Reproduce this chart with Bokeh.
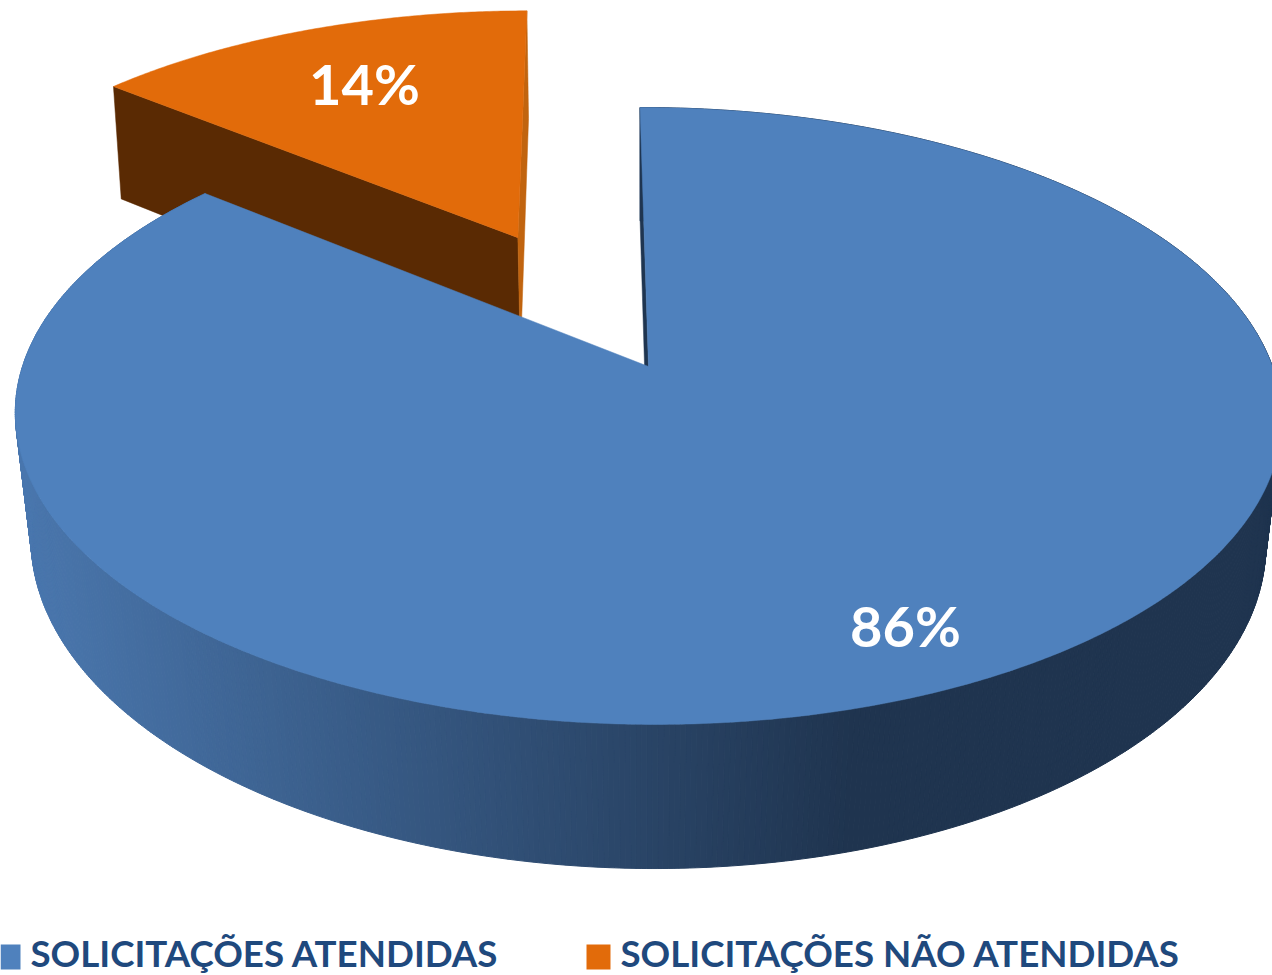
import math
from bokeh.plotting import figure
from bokeh.models import Range1d
from bokeh.core.properties import value
from bokeh.embed import file_html
from bokeh.resources import INLINE

categories = ["SOLICITAÇÕES ATENDIDAS", "SOLICITAÇÕES NÃO ATENDIDAS"]
shares = [86, 14]
share_labels = ["86%", "14%"]
top_colors = ["#4F81BD", "#E26B0A"]
cut_colors = ["#1F3550", "#5A2A03"]
inner_color = "#C1640F"

W, H = 1272, 975
CX, CY = 648.0, 366.0
A, B, K = 300.5, 625.0, 0.1604   # perspective of the pie's plane
SHEAR = 0.005
VX, VY = 645.0, 7800.0           # vanishing point of the pie's thickness
DEPTH = 0.0171
START = -0.9
EXPLODE = 0.51
STEPS = 720


def to_screen(px, py):
    d = 1 + K * py
    x = CX + B * px / d
    return x, CY - A * py / d + SHEAR * (x - CX)


def lower(px, py):
    x, y = to_screen(px, py)
    t = DEPTH / (1 + K * py)
    pull = max(1.0, 1 + 0.35 * (1.07 - py))
    return x + (VX - x) * t * pull, y + (VY - y) * t


def rim(deg, ox=0.0, oy=0.0):
    r = math.radians(deg)
    return ox + math.sin(r), oy + math.cos(r)


def lerp_color(x):
    t = max(0.0, min(1.0, (x - 20) / 830))
    a, b = (74, 119, 174), (31, 52, 79)
    return "#%02x%02x%02x" % tuple(round(a[i] + (b[i] - a[i]) * t) for i in range(3))


p = figure(width=W, height=H, x_range=Range1d(0, W), y_range=Range1d(H, 0),
           output_backend="svg", toolbar_location=None, min_border=0,
           outline_line_color=None, background_fill_color="white")
p.axis.visible = False
p.grid.visible = False

total = sum(shares)
big_span = 360.0 * shares[0] / total
big_end = START + big_span
mid = big_end + (360.0 - big_span) / 2
off_x = EXPLODE * math.sin(math.radians(mid))
off_y = EXPLODE * math.cos(math.radians(mid))

# small slice, pulled out
n = 120
small = [rim(big_end + (360 + START - big_end) * i / n, off_x, off_y) for i in range(n + 1)]
c = (off_x, off_y)
s0, s1 = small[0], small[-1]


def quad(a, b):
    pts = [to_screen(*a), to_screen(*b), lower(*b), lower(*a)]
    return [q[0] for q in pts], [q[1] for q in pts]


xs, ys = quad(c, s0)
p.patch(xs, ys, fill_color=cut_colors[1], line_color=cut_colors[1], line_width=0.5)
xs, ys = quad(c, s1)
p.patch(xs, ys, fill_color=inner_color, line_color=inner_color, line_width=0.5)
pts = [to_screen(*c)] + [to_screen(*q) for q in small]
p.patch([q[0] for q in pts], [q[1] for q in pts], fill_color=top_colors[1],
        line_color=top_colors[1], line_width=0.5)

# large slice: side, inner wall, top
side_x, side_y, side_c = [], [], []
for i in range(STEPS):
    d0 = START + big_span * i / STEPS
    d1 = START + big_span * (i + 1) / STEPS
    xs, ys = quad(rim(d0), rim(d1))
    side_x.append(xs)
    side_y.append(ys)
    side_c.append(lerp_color(sum(xs) / 4))
p.patches(side_x, side_y, fill_color=side_c, line_color=side_c, line_width=1)

xs, ys = quad((0.0, 0.0), rim(START))
p.patch(xs, ys, fill_color=cut_colors[0], line_color=cut_colors[0], line_width=0.5)

pts = [to_screen(0, 0)] + [to_screen(*rim(START + big_span * i / STEPS)) for i in range(STEPS + 1)]
p.patch([q[0] for q in pts], [q[1] for q in pts], fill_color=top_colors[0],
        line_color=top_colors[0], line_width=0.5)

# slice labels
p.text([905], [625], text=[share_labels[0]], text_color="white", text_font=value("Lato"),
       text_font_style="bold", text_font_size="56px", text_align="center", text_baseline="middle")
p.text([364], [83], text=[share_labels[1]], text_color="white", text_font=value("Lato"),
       text_font_style="bold", text_font_size="56px", text_align="center", text_baseline="middle")

# legend
p.quad(left=[0, 586], right=[20, 610], top=[944, 944], bottom=[969, 969],
       fill_color=top_colors, line_color=None)
p.text([30, 620], [952.5, 952.5], text=categories, text_color="#1F497D", text_font=value("Lato"),
       text_font_style="bold", text_font_size="36.7px", text_align="left", text_baseline="middle")

open("out.html", "w").write(file_html(p, INLINE))
